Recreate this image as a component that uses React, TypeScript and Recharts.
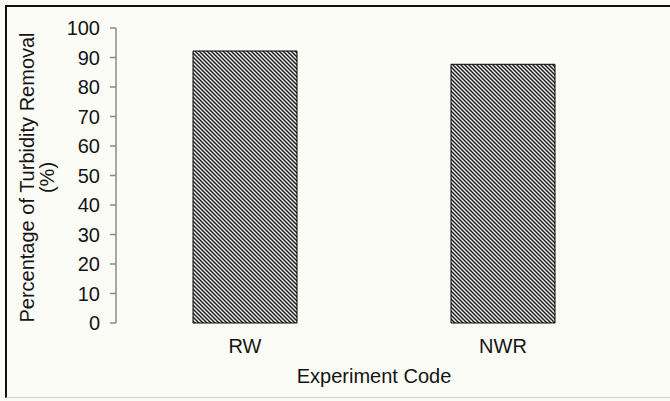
import React from 'react';
import { BarChart, Bar, XAxis, YAxis, Label } from 'recharts';

const categories = ['RW', 'NWR'];
const removalValues = [92.2, 87.7];
const yTicks = [0, 10, 20, 30, 40, 50, 60, 70, 80, 90, 100];
const boundaryTicks = [0, 1, 2];

const data = categories.map((c, i) => ({ code: c, removal: removalValues[i] }));

const FONT = '"Liberation Sans", Arial, sans-serif';
const TXT = '#141414';
const AXIS = '#8a8a8a';
const FS = 20;

const YLabel = (props: any) => {
  const vb = props.viewBox || { x: 0, y: 0, width: 0, height: 0 };
  const cy = vb.y + vb.height / 2 + 2;
  const x1 = vb.x + 28;
  const x2 = x1 + 20;
  return (
    <g>
      <text
        x={x1}
        y={cy}
        transform={`rotate(-90 ${x1} ${cy})`}
        textAnchor="middle"
        fontFamily={FONT}
        fontSize={FS}
        fill={TXT}
      >
        Percentage of Turbidity Removal
      </text>
      <text
        x={x2}
        y={cy}
        transform={`rotate(-90 ${x2} ${cy})`}
        textAnchor="middle"
        fontFamily={FONT}
        fontSize={FS}
        fill={TXT}
      >
        (%)
      </text>
    </g>
  );
};

export default function App() {
  return (
    <div
      style={{
        position: 'absolute',
        left: 0,
        top: 0,
        width: 670,
        height: 401,
        background: '#fcfcf7',
        overflow: 'hidden',
      }}
    >
      <div
        style={{
          position: 'absolute',
          left: 5,
          top: 5,
          width: 665,
          height: 393,
          borderTop: '2px solid #111',
          borderLeft: '2px solid #111',
          borderBottom: '1px solid #d0d0cc',
          boxSizing: 'border-box',
        }}
      />
      <div style={{ position: 'absolute', left: 0, top: 0 }}>
        <BarChart
          width={670}
          height={401}
          data={data}
          margin={{ top: 28, right: 38, bottom: 16, left: 6 }}
          barCategoryGap={0}
        >
          <defs>
            <pattern id="hatch" width="4" height="4" patternUnits="userSpaceOnUse">
              <rect width="4" height="4" fill="#ececec" />
              <path d="M-1,-1 L5,5 M-1,3 L1,5 M3,-1 L5,1" stroke="#1a1a1a" strokeWidth={1.4} />
            </pattern>
          </defs>
          <XAxis
            xAxisId="num"
            type="number"
            domain={[0, 2]}
            ticks={boundaryTicks}
            height={0}
            axisLine={{ stroke: AXIS, strokeWidth: 1.5 }}
            tickLine={{ stroke: AXIS, strokeWidth: 1.5 }}
            tickSize={5}
            tickFormatter={() => ''}
            interval={0}
          />
          <XAxis
            xAxisId="cat"
            dataKey="code"
            height={62}
            axisLine={false}
            tickLine={false}
            tickSize={14}
            tickMargin={2}
            tick={{ fontFamily: FONT, fontSize: FS, fill: TXT }}
          >
            <Label
              value="Experiment Code"
              position="insideBottom"
              offset={2}
              style={{ fontFamily: FONT, fontSize: FS, fill: TXT }}
            />
          </XAxis>
          <YAxis
            width={110}
            domain={[0, 100]}
            ticks={yTicks}
            interval={0}
            axisLine={{ stroke: AXIS, strokeWidth: 1.5 }}
            tickLine={{ stroke: AXIS, strokeWidth: 1.5 }}
            tickSize={6}
            tickMargin={10}
            tick={{ fontFamily: FONT, fontSize: FS, fill: TXT }}
          >
            <Label content={<YLabel />} />
          </YAxis>
          <Bar
            xAxisId="cat"
            dataKey="removal"
            barSize={104}
            fill="url(#hatch)"
            stroke="#000"
            strokeWidth={1}
            isAnimationActive={false}
          />
        </BarChart>
      </div>
    </div>
  );
}
